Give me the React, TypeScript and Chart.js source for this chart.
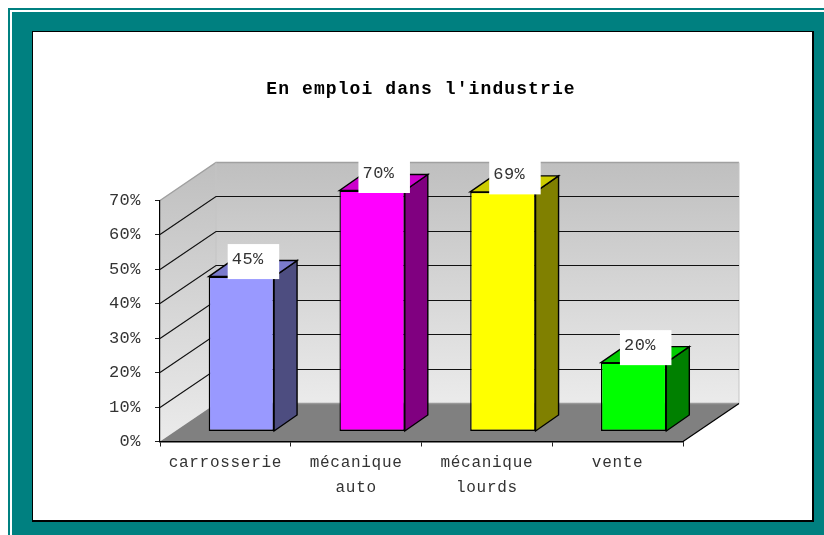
import React, { useEffect, useRef } from "react";
import { Chart, registerables } from "chart.js";

Chart.register(...registerables);

const title = "En emploi dans l'industrie";
const categories = [["carrosserie"], ["mécanique", "auto"], ["mécanique", "lourds"], ["vente"]];
const values = [45, 70, 69.6, 20];
const valueLabels = ["45%", "70%", "69%", "20%"];
const frontColors = ["#9999ff", "#ff00ff", "#ffff00", "#00ff00"];
const topColors = ["#7a7acc", "#cc00cc", "#cccc00", "#00cc00"];
const sideColors = ["#4d4d80", "#800080", "#808000", "#008000"];
const yTicks = [0, 10, 20, 30, 40, 50, 60, 70];

const TEAL = "#008080";
const FONT = "'Liberation Mono', monospace";
const WALL_DX = 56;
const WALL_DY = -38;
const BAR_OFF_X = 16;
const BAR_OFF_Y = -10;
const BAR_DX = 23;
const BAR_DY = -16;

function poly(ctx: CanvasRenderingContext2D, pts: number[][], fill?: any, stroke?: string, lw = 1) {
  ctx.beginPath();
  pts.forEach((p, i) => (i ? ctx.lineTo(p[0], p[1]) : ctx.moveTo(p[0], p[1])));
  ctx.closePath();
  if (fill) {
    ctx.fillStyle = fill;
    ctx.fill();
  }
  if (stroke) {
    ctx.strokeStyle = stroke;
    ctx.lineWidth = lw;
    ctx.stroke();
  }
}

const box3d = {
  id: "box3d",
  afterLayout(chart: any) {
    const ctx = chart.ctx;
    const tb = chart.titleBlock;
    tb.left = 18;
    tb.right = 824;
    if (chart.$wrapped) return;
    chart.$wrapped = true;
    const wrap = (obj: any, name: string, ls: string) => {
      const orig = obj[name].bind(obj);
      obj[name] = (a: any) => {
        ctx.save();
        ctx.letterSpacing = ls;
        orig(a);
        ctx.restore();
      };
    };
    wrap(tb, "draw", "1.1px");
    wrap(chart.scales.x, "drawLabels", "0.7px");
    wrap(chart.scales.y, "drawLabels", "0.5px");
  },
  beforeDraw(chart: any) {
    const { ctx, scales } = chart;
    const x = scales.x;
    const y = scales.y;
    const L = x.left;
    const R = x.right;
    const B = y.getPixelForValue(0);
    const T = y.getPixelForValue(70);
    ctx.save();
    const g = ctx.createLinearGradient(0, T + WALL_DY, 0, B + WALL_DY);
    g.addColorStop(0, "#bfbfbf");
    g.addColorStop(1, "#ebebeb");
    const gs = ctx.createLinearGradient(0, T + WALL_DY, 0, B);
    gs.addColorStop(0, "#bfbfbf");
    gs.addColorStop(1, "#ebebeb");
    // side wall
    poly(ctx, [[L, B], [L + WALL_DX, B + WALL_DY], [L + WALL_DX, T + WALL_DY], [L, T]], gs);
    // back wall
    poly(ctx, [[L + WALL_DX, B + WALL_DY], [R + WALL_DX, B + WALL_DY], [R + WALL_DX, T + WALL_DY], [L + WALL_DX, T + WALL_DY]], g);
    // floor
    poly(ctx, [[L, B], [L + WALL_DX, B + WALL_DY], [R + WALL_DX, B + WALL_DY], [R, B]], "#808080");
    // wall edges
    ctx.lineWidth = 1.5;
    ctx.strokeStyle = "#a0a0a0";
    ctx.beginPath();
    ctx.moveTo(L, T);
    ctx.lineTo(L + WALL_DX, T + WALL_DY);
    ctx.lineTo(R + WALL_DX, T + WALL_DY);
    ctx.stroke();
    ctx.lineWidth = 1;
    ctx.strokeStyle = "#c4c4c4";
    ctx.beginPath();
    ctx.moveTo(L + WALL_DX, T + WALL_DY);
    ctx.lineTo(L + WALL_DX, B + WALL_DY);
    ctx.moveTo(R + WALL_DX, T + WALL_DY);
    ctx.lineTo(R + WALL_DX, B + WALL_DY);
    ctx.stroke();
    ctx.lineWidth = 1.5;
    ctx.strokeStyle = "#999999";
    ctx.beginPath();
    ctx.moveTo(L + WALL_DX, B + WALL_DY);
    ctx.lineTo(R + WALL_DX, B + WALL_DY);
    ctx.stroke();
    // grid
    ctx.lineWidth = 1.2;
    ctx.strokeStyle = "#111111";
    ctx.beginPath();
    yTicks.forEach((v) => {
      if (v === 0 || v === 70) return;
      const p = Math.floor(y.getPixelForValue(v)) + 0.5;
      ctx.moveTo(L, p);
      ctx.lineTo(L + WALL_DX, p + WALL_DY);
      ctx.lineTo(R + WALL_DX, p + WALL_DY);
    });
    ctx.stroke();
    // floor right edge
    ctx.strokeStyle = "#000000";
    ctx.beginPath();
    ctx.moveTo(R, B);
    ctx.lineTo(R + WALL_DX, B + WALL_DY);
    ctx.stroke();
    ctx.restore();
  },
  beforeDatasetDraw(chart: any, args: any) {
    const ctx = chart.ctx;
    ctx.save();
    ctx.translate(BAR_OFF_X, BAR_OFF_Y);
    args.meta.data.forEach((el: any, i: number) => {
      const l = el.x - el.width / 2;
      const r = el.x + el.width / 2;
      const t = el.y;
      const b = el.base;
      poly(ctx, [[r, t], [r + BAR_DX, t + BAR_DY], [r + BAR_DX, b + BAR_DY], [r, b]], sideColors[i], "#000", 1.4);
      poly(ctx, [[l, t], [l + BAR_DX, t + BAR_DY], [r + BAR_DX, t + BAR_DY], [r, t]], topColors[i], "#000", 1.4);
    });
  },
  afterDatasetDraw(chart: any, args: any) {
    const ctx = chart.ctx;
    ctx.restore();
    ctx.save();
    args.meta.data.forEach((el: any, i: number) => {
      const left = el.x - el.width / 2 + BAR_OFF_X + 19;
      const bottom = el.y + BAR_OFF_Y + 2.5;
      ctx.fillStyle = "#ffffff";
      ctx.fillRect(left, bottom - 35, 51.5, 35);
      ctx.fillStyle = "#333333";
      ctx.font = `17px ${FONT}`;
      ctx.letterSpacing = "0.5px";
      ctx.textAlign = "left";
      ctx.textBaseline = "middle";
      ctx.fillText(valueLabels[i], left + 4, bottom - 19.5);
    });
    ctx.restore();
  },
};

const strip = (left: number, top: number, width: number, height: number, bg: string): React.CSSProperties => ({
  position: "absolute",
  left,
  top,
  width,
  height,
  background: bg,
});

export default function App() {
  const ref = useRef<HTMLCanvasElement>(null);
  useEffect(() => {
    const chart = new Chart(ref.current!, {
      type: "bar",
      data: {
        labels: categories as any,
        datasets: [
          {
            data: values,
            backgroundColor: frontColors,
            borderColor: "#000000",
            borderWidth: 1.4,
            borderSkipped: false,
            barPercentage: 0.5,
            categoryPercentage: 1,
            clip: false as any,
          },
        ],
      },
      options: {
        responsive: false,
        animation: false,
        events: [],
        layout: { padding: { left: 18, right: 141, top: 0, bottom: 0 } },
        plugins: {
          legend: { display: false },
          tooltip: { enabled: false },
          title: {
            display: true,
            text: title,
            color: "#000000",
            font: { family: FONT, size: 18, weight: "bold", lineHeight: 1.2 },
            padding: { top: 79, bottom: 99.9 },
          },
        },
        scales: {
          x: {
            offset: true,
            afterFit: (s: any) => {
              s.height = 93.5;
            },
            border: { color: "#000000", width: 1.4 },
            grid: { drawOnChartArea: false, drawTicks: true, tickLength: 5, color: "#222222", offset: true },
            ticks: {
              autoSkip: false,
              maxRotation: 0,
              color: "#333333",
              padding: 4,
              font: { family: FONT, size: 16, lineHeight: 1.56 },
            },
          },
          y: {
            min: 0,
            max: 70,
            afterFit: (s: any) => {
              s.width = 142;
            },
            afterBuildTicks: (s: any) => {
              s.ticks = yTicks.map((v) => ({ value: v }));
            },
            border: { color: "#000000", width: 1.2 },
            grid: { drawOnChartArea: false, drawTicks: true, tickLength: 5, color: "#222222" },
            ticks: {
              color: "#333333",
              padding: 14,
              font: { family: FONT, size: 17 },
              callback: (v: any) => `${v}%`,
            },
          },
        },
      },
      plugins: [box3d],
    } as any);
    return () => chart.destroy();
  }, []);
  return (
    <div style={{ position: "fixed", inset: 0, background: "#ffffff", overflow: "hidden" }}>
      <div style={strip(8, 8, 816, 527, TEAL)} />
      <div style={strip(10, 10, 814, 2, "#ffffff")} />
      <div style={strip(10, 10, 2, 525, "#ffffff")} />
      <div style={{ ...strip(32, 31, 779, 488, "#ffffff"), border: "1px solid #000", borderRightWidth: 2, borderBottomWidth: 2 }} />
      <canvas ref={ref} width={824} height={535} style={{ position: "absolute", left: 0, top: 0, width: 824, height: 535 }} />
    </div>
  );
}
